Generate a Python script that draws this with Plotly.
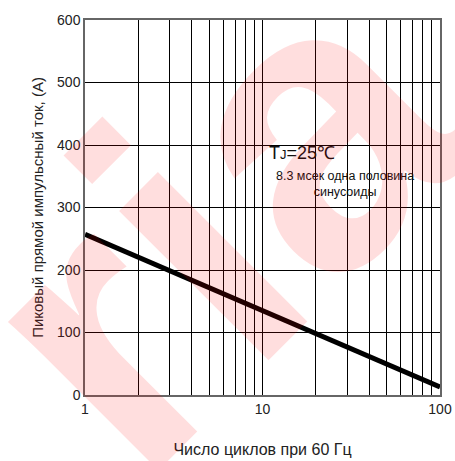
import plotly.graph_objects as go

# Data
cycles = [1, 2, 3, 5, 10, 20, 50, 100]
current = [257, 220, 198, 171, 135, 97, 49, 13]

x_tickvals = [1, 2, 3, 4, 5, 6, 7, 8, 9, 10, 20, 30, 40, 50, 60, 70, 80, 90, 100]
x_ticktext = ["1", "", "", "", "", "", "", "", "", "10", "", "", "", "", "", "", "", "", "100"]
y_tickvals = [0, 100, 200, 300, 400, 500, 600]

x_title = "Число циклов при 60 Гц"
y_title = "Пиковый прямой импульсный ток, (A)"
note1 = "T<span style='font-size:13px'>J</span>=25℃"
note2 = "8.3 мсек одна половина<br>синусоиды"
watermark = "ria"

FONT = "Liberation Sans, Arial, sans-serif"

fig = go.Figure()
fig.add_trace(go.Scatter(x=cycles, y=current, mode="lines",
                         line=dict(color="black", width=5), showlegend=False))

fig.update_layout(
    width=455, height=461,
    margin=dict(l=85, r=15, t=20, b=66),
    paper_bgcolor="white", plot_bgcolor="white",
    font=dict(family=FONT, color="#222", size=13),
    xaxis=dict(type="log", range=[0, 2], tickvals=x_tickvals, ticktext=x_ticktext,
               showgrid=True, gridcolor="black", gridwidth=1,
               showline=True, linecolor="#666", linewidth=1.5, mirror=True,
               ticks="", tickfont=dict(size=14), zeroline=False, automargin=False,
               title=dict(text=x_title, font=dict(size=16), standoff=28)),
    yaxis=dict(range=[0, 600], tickvals=y_tickvals,
               showgrid=True, gridcolor="black", gridwidth=1,
               showline=True, linecolor="#666", linewidth=1.5, mirror=True,
               ticks="", tickfont=dict(size=14), zeroline=False, automargin=False,
               title=dict(text=y_title, font=dict(size=15), standoff=10)),
)

fig.add_shape(type="rect", xref="paper", yref="paper", x0=0.515, x1=0.944, y0=0.515, y1=0.665,
              fillcolor="white", line=dict(width=0), layer="between")

fig.add_annotation(text=note1, xref="paper", yref="paper", x=0.516, y=0.645,
                   xanchor="left", yanchor="middle", showarrow=False, borderpad=0,
                   font=dict(size=18, family=FONT, color="#111"))
fig.add_annotation(text=note2, xref="paper", yref="paper", x=0.731, y=0.562,
                   xanchor="center", yanchor="middle", align="center", showarrow=False,
                   borderpad=0, font=dict(size=12.5, family=FONT, color="#111"))

fig.add_annotation(text="<b>" + watermark + "</b>", xref="paper", yref="paper", x=0.365, y=0.47,
                   xanchor="center", yanchor="middle", showarrow=False, textangle=-45,
                   font=dict(size=400, family=FONT, color="rgba(255,0,0,0.13)"))

fig.write_html("out.html", config={"displayModeBar": False},
               post_script="document.body.style.margin='0px';")
